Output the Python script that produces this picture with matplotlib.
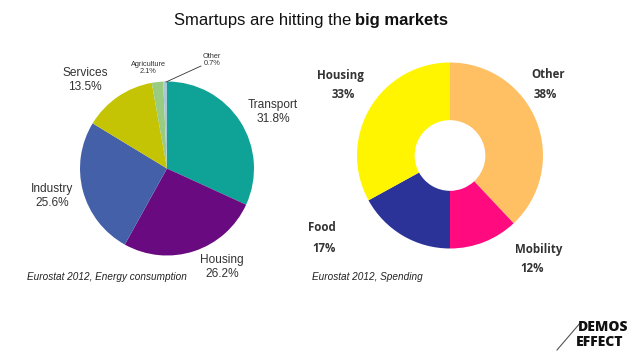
import matplotlib
matplotlib.use("Agg")
import matplotlib.pyplot as plt
from matplotlib.lines import Line2D

W, H = 638, 359

# Data
energy_labels = ["Transport", "Housing", "Industry", "Services", "Agriculture", "Other"]
energy_values = [31.8, 26.2, 25.6, 13.5, 2.1, 0.7]
energy_colors = ["#0ea396", "#6a0a80", "#4360a8", "#c4c404", "#99cc80", "#a9c9d6"]

spend_labels = ["Other", "Mobility", "Food", "Housing"]
spend_values = [38, 12, 17, 33]
spend_colors = ["#fec062", "#ff0a7f", "#2b3398", "#fff500"]

fig = plt.figure(figsize=(W / 100, H / 100), dpi=100)
fig.patch.set_facecolor("white")

def fx(x):
    return x / W

def fy(y):
    return 1 - y / H

def add_pie_axes(cx, cy, r):
    return fig.add_axes([fx(cx - r), fy(cy + r), 2 * r / W, 2 * r / H])

def finish(ax):
    ax.set_xlim(-1, 1)
    ax.set_ylim(-1, 1)
    ax.set_aspect("equal")
    ax.axis("off")

# Left pie
ax1 = add_pie_axes(167, 168.5, 87)
ax1.pie(energy_values, colors=energy_colors, startangle=90, counterclock=False,
        radius=1, wedgeprops=dict(linewidth=0))
finish(ax1)

# Right donut
ax2 = add_pie_axes(450, 155.5, 93)
ax2.pie(spend_values, colors=spend_colors, startangle=90, counterclock=False,
        radius=1, wedgeprops=dict(width=0.62, linewidth=0))
finish(ax2)

# Title
fig.text(fx(351), fy(20), "Smartups are hitting the", ha="right", va="center",
         fontsize=12, family="Liberation Sans", color="#111111")
fig.text(fx(355), fy(20), "big markets", ha="left", va="center",
         fontsize=12, family="Liberation Sans", weight="bold", color="#111111")

# Left pie labels
lab_kw = dict(ha="center", va="center", family="Liberation Sans", color="#333333")
left_pos = {
    "Transport": (273, 112, 8.6),
    "Housing": (222, 267, 8.6),
    "Industry": (52, 196, 8.6),
    "Services": (85, 80, 8.6),
    "Agriculture": (148, 68, 5.3),
    "Other": (212, 60, 5.3),
}
for lab, val in zip(energy_labels, energy_values):
    x, y, fs = left_pos[lab]
    fig.text(fx(x), fy(y), f"{lab}\n{val}%", fontsize=fs, linespacing=1.15, **lab_kw)

fig.add_artist(Line2D([fx(201), fx(166)], [fy(66), fy(82)], color="#333333", lw=0.6))

# Right donut labels
r_kw = dict(ha="center", va="center", family="Open Sans", weight="bold",
            color="#333333", fontsize=8.3)
right_pos = {
    "Housing": (340, 75, 343, 95),
    "Other": (548, 75, 545, 95),
    "Food": (322, 228, 324, 248),
    "Mobility": (539, 249, 532, 269),
}
for lab, val in zip(spend_labels, spend_values):
    x1, y1, x2, y2 = right_pos[lab]
    fig.text(fx(x1), fy(y1), lab, **r_kw)
    fig.text(fx(x2), fy(y2), f"{val}%", **r_kw)

# Sources
fig.text(fx(27), fy(277), "Eurostat 2012, Energy consumption", ha="left", va="center",
         fontsize=7.2, style="italic", family="Liberation Sans", color="#222222")
fig.text(fx(312), fy(277), "Eurostat 2012, Spending", ha="left", va="center",
         fontsize=7.2, style="italic", family="Liberation Sans", color="#222222")

# Logo
fig.text(fx(578), fy(327), "DEMOS", ha="left", va="center", fontsize=10,
         family="Open Sans", weight="heavy", color="#111111")
fig.text(fx(576), fy(342), "EFFECT", ha="left", va="center", fontsize=10,
         family="Open Sans", weight="heavy", color="#111111")
fig.add_artist(Line2D([fx(557), fx(581)], [fy(350), fy(322)], color="#555555", lw=0.8))

fig.savefig("out.png", dpi=100, facecolor="white")
